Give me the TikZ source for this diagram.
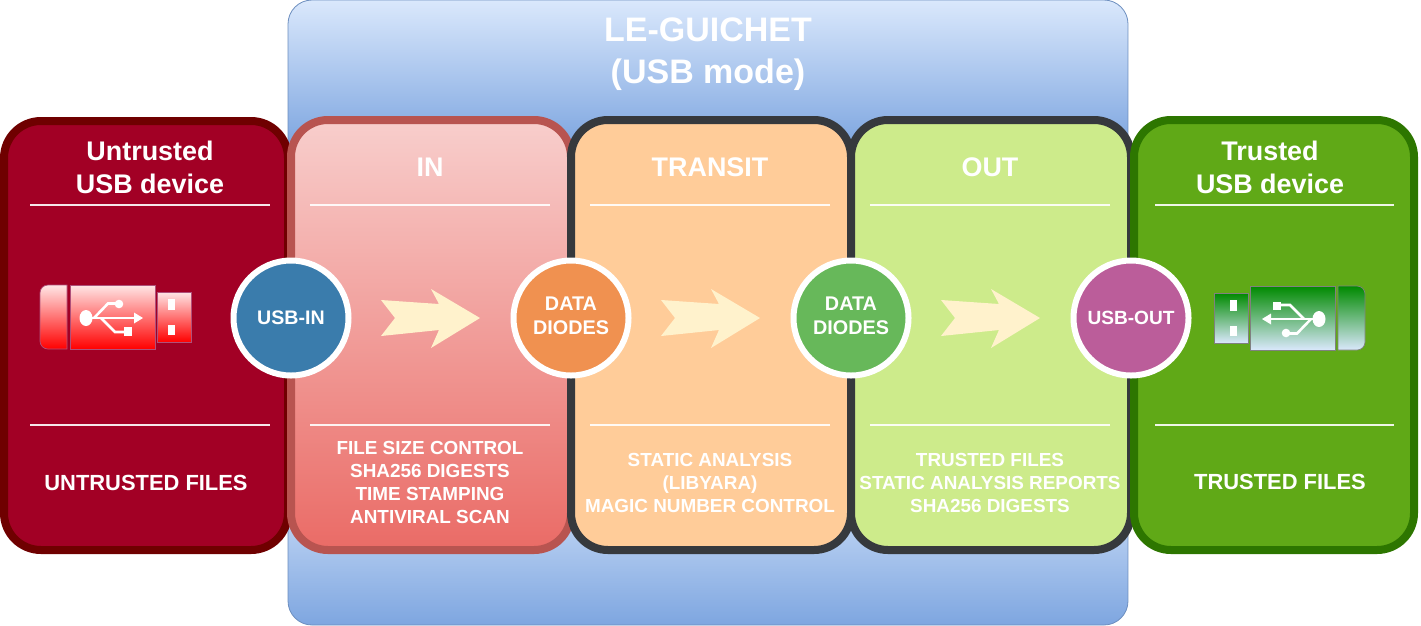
\documentclass[tikz,border=0pt]{standalone}
\usepackage{fontspec}
\setmainfont{Liberation Sans}
\definecolor{blueS}{HTML}{6C8EBF}
\definecolor{blueA}{HTML}{DAE8FC}
\definecolor{blueB}{HTML}{7EA6E0}
\newcommand{\usbicon}[3]{%
  \begin{scope}[usbpart/.style={draw=#2,line width=0.7pt,top color=#1,bottom color=usbBottom}]
  \path[usbpart] (67,285) -- (48,285) [rounded corners=8pt] -- (40,285) -- (40,349) [sharp corners] -- (67,349) -- cycle;
  \path[usbpart] (70,285) rectangle (155,349);
  \path[usbpart] (157,292) rectangle (191,342);
  \fill[white] (168,299) rectangle (175,310);
  \fill[white] (168,325) rectangle (175,335);
  \begin{scope}[shift={(0,318)},yscale=#3,shift={(0,-318)}]
  \fill[white] (86,318) ellipse (6.5 and 8);
  \draw[white,line width=2.6pt] (90,318) -- (136,318);
  \fill[white] (143,318) -- (134,312.5) -- (134,323.5) -- cycle;
  \draw[white,line width=2.6pt] (94,318) -- (108,303.5) -- (118,303.5);
  \fill[white] (119,304) circle (4.3);
  \draw[white,line width=2.6pt] (101,318) -- (115,332) -- (125,332);
  \fill[white] (124,327) rectangle (132,335.5);
  \end{scope}
  \end{scope}}
\tikzset{
  x=1pt,y=-1pt,
  panel/.style={line width=8pt,rounded corners=37pt},
  divider/.style={draw=white,line width=2pt,opacity=0.9},
  hub/.style={circle,draw=white,line width=6pt,minimum size=115pt,inner sep=0pt,text=white,align=center,font=\fontsize{19.6}{24}\selectfont\bfseries},
  hubtext/.style={text=white,align=center,font=\fontsize{19.8}{24}\selectfont\bfseries},
  headtext/.style={text=white,align=center,font=\fontsize{26.9}{33}\selectfont\bfseries},
  bodytext/.style={text=white,align=center,font=\fontsize{18.9}{22.7}\selectfont\bfseries},
  sidetext/.style={text=white,align=center,font=\fontsize{21.9}{24}\selectfont\bfseries},
  titletext/.style={text=white,align=center,font=\fontsize{34}{42}\selectfont\bfseries},
  flow/.style={fill=flowC},
}
\definecolor{flowC}{HTML}{FFF2CC}
\definecolor{usbBottom}{HTML}{FF0000}
\begin{document}
\begin{tikzpicture}
\useasboundingbox (0,0) rectangle (1421,625);
% enclosing box
\begin{scope}
  \clip[rounded corners=24pt] (288,0) rectangle (1128,625);
  \fill[blueB] (288,140) rectangle (1128,470);
  \shade[top color=blueA,bottom color=blueB] (288,0) rectangle (1128,145);
  \shade[top color=blueA,bottom color=blueB] (288,465) rectangle (1128,625);
\end{scope}
\draw[blueS,line width=0.8pt,rounded corners=24pt] (288,0) rectangle (1128,625);
% panels
\path[panel,fill={rgb,255:red,162;green,0;blue,37},draw={rgb,255:red,111;green,0;blue,0}] (4,121) rectangle (288,550);
\path[panel,draw={rgb,255:red,184;green,84;blue,80},top color={rgb,255:red,248;green,206;blue,204},bottom color={rgb,255:red,234;green,107;blue,102}] (291,120) rectangle (571,550);
\path[panel,draw={rgb,255:red,54;green,57;blue,61},fill={rgb,255:red,255;green,204;blue,153}] (571,120) rectangle (851,550);
\path[panel,draw={rgb,255:red,54;green,57;blue,61},fill={rgb,255:red,205;green,235;blue,139}] (851,120) rectangle (1131,550);
\path[panel,draw={rgb,255:red,45;green,118;blue,0},fill={rgb,255:red,96;green,169;blue,23}] (1134,120) rectangle (1414,550);
% dividers
\foreach \a/\b in {30/270,310/550,590/830,870/1110,1155/1394}{
  \draw[divider] (\a,205) -- (\b,205);
  \draw[divider] (\a,425) -- (\b,425);
}
% flow arrows
\foreach \s in {0,280,560}{
  \begin{scope}[xshift=\s pt]
  \path[flow] (381,300) -- (395,318) -- (381,336) -- (439,330) -- (431,348) -- (480,318) -- (431,289) -- (439,304) -- cycle;
  \end{scope}
}
% usb icons
\definecolor{usbTopL}{HTML}{FFE6E6}
\definecolor{usbEdgeL}{HTML}{B0507A}
\usbicon{usbTopL}{usbEdgeL}{1}
\definecolor{usbBottom}{HTML}{DAE8FC}
\definecolor{usbTopR}{HTML}{008A00}
\definecolor{usbEdgeR}{HTML}{808080}
\begin{scope}[xshift=1405pt,yshift=-1pt,xscale=-1]
\usbicon{usbTopR}{usbEdgeR}{-1}
\end{scope}
% hubs
\node[hub,fill={rgb,255:red,58;green,124;blue,172}] (usbin) at (291,318) {USB-IN};
\node[hub,fill={rgb,255:red,240;green,145;blue,80}] (dd1) at (571,318) {};
\node[hub,fill={rgb,255:red,103;green,184;blue,90}] (dd2) at (851,318) {};
\node[hub,fill={rgb,255:red,187;green,93;blue,154},font=\fontsize{19.1}{24}\selectfont\bfseries] (usbout) at (1131,318) {USB-OUT};
\node[hubtext] (dd1t) at ([yshift=2pt]dd1.center) {DATA\\DIODES};
\node[hubtext] (dd2t) at ([yshift=2pt]dd2.center) {DATA\\DIODES};
% texts
\node[titletext] (title) at (708,54) {LE-GUICHET\\(USB mode)};
\node[headtext] (unt) at (150,167) {Untrusted\\USB device};
\node[headtext] (tr) at (1270,167) {Trusted\\USB device};
\node[headtext] (inh) at (430,167) {IN};
\node[headtext] (transith) at (710,167) {TRANSIT};
\node[headtext] (outh) at (990,167) {OUT};
\node[sidetext] (untf) at (146,483) {UNTRUSTED FILES};
\node[sidetext] (trf) at (1280,482) {TRUSTED FILES};
\node[bodytext] (inb) at (430,482.5) {FILE SIZE CONTROL\\SHA256 DIGESTS\\TIME STAMPING\\ANTIVIRAL SCAN};
\node[bodytext] (trb) at (710,483) {STATIC ANALYSIS\\(LIBYARA)\\MAGIC NUMBER CONTROL};
\node[bodytext] (oub) at (990,483) {TRUSTED FILES\\STATIC ANALYSIS REPORTS\\SHA256 DIGESTS};
\end{tikzpicture}
\end{document}
